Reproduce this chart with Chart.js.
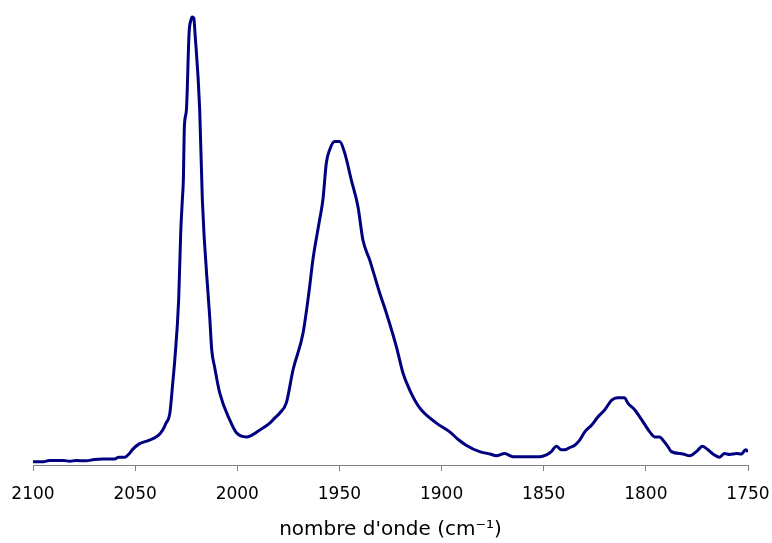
<!DOCTYPE html>
<html>
<head>
<meta charset="utf-8">
<script src="https://cdn.jsdelivr.net/npm/chart.js@4.4.0/dist/chart.umd.min.js"></script>
<style>
    html, body { margin: 0; padding: 0; background: #fff; }
    #wrap { width: 772px; height: 543px; position: relative; }
</style>
</head>
<body>
<div id="wrap"><canvas id="spectre"></canvas></div>
<script>
const wavenumbers = [
    2100, 2095, 2092, 2085, 2082, 2079, 2074, 2070, 2066, 2060, 2058, 2055, 2053, 2051, 2048,
    2043, 2038.5, 2036.5, 2035, 2033, 2031.6, 2030.6, 2028.7, 2027.7, 2026.9, 2026.4, 2025.9,
    2024.9, 2023.6, 2022.7, 2022, 2021.3, 2020.7, 2018.4, 2017.1, 2014.1, 2013.5, 2012.5,
    2011.1, 2008.6, 2003.7, 2000.4, 1995.5, 1989, 1984.1, 1981.7, 1979.2, 1976, 1972.7,
    1967.8, 1964.6, 1963, 1959.7, 1958.1, 1956.4, 1954.8, 1952.3, 1949.9, 1947.4, 1944.2,
    1940.9, 1938.5, 1935.2, 1930.3, 1927, 1922.1, 1918.9, 1915.6, 1910.7, 1902.5, 1896,
    1892, 1888, 1881.4, 1876.3, 1873.2, 1869.1, 1865.1, 1852, 1848.7, 1846.3, 1843.8,
    1841.4, 1839.7, 1837.3, 1834.8, 1832.4, 1829.9, 1826.5, 1823.6, 1820.1, 1816.7, 1813.8,
    1810.4, 1808.9, 1805.5, 1802, 1798.1, 1795.7, 1793.2, 1791.6, 1789.2, 1787.5, 1781.8,
    1778.6, 1775.3, 1772.3, 1769.6, 1767.2, 1763.9, 1761.5, 1759, 1755.7, 1753.2, 1751.2, 1750
];
// absorbance (unités arbitraires)
const absorbance = [
    0.007, 0.007, 0.010, 0.010, 0.008, 0.010, 0.009, 0.012, 0.013, 0.013, 0.017, 0.017, 0.024, 0.035, 0.046,
    0.054, 0.065, 0.076, 0.090, 0.113, 0.178, 0.228, 0.359, 0.504, 0.576, 0.620, 0.735,
    0.772, 0.939, 0.967, 0.974, 0.972, 0.939, 0.772, 0.576, 0.359, 0.322, 0.250,
    0.213, 0.157, 0.098, 0.070, 0.061, 0.076, 0.091, 0.102, 0.113, 0.135, 0.207,
    0.287, 0.387, 0.446, 0.533, 0.576, 0.657, 0.685, 0.703, 0.703, 0.678, 0.620,
    0.561, 0.489, 0.446, 0.374, 0.330, 0.257, 0.200, 0.163, 0.124, 0.091, 0.072,
    0.056, 0.043, 0.029, 0.024, 0.020, 0.025, 0.018, 0.018, 0.022, 0.029, 0.041,
    0.033, 0.033, 0.038, 0.043, 0.054, 0.072, 0.087, 0.104, 0.120, 0.141, 0.146,
    0.146, 0.135, 0.120, 0.098, 0.072, 0.061, 0.061, 0.054, 0.040, 0.029, 0.024,
    0.020, 0.029, 0.041, 0.033, 0.024, 0.017, 0.025, 0.023, 0.025, 0.024, 0.033, 0.029
];
const xTicks = [2100, 2050, 2000, 1950, 1900, 1850, 1800, 1750];
const xTitle = "nombre d'onde (cm⁻¹)";

const points = wavenumbers.map((w, i) => ({ x: w, y: absorbance[i] }));

new Chart(document.getElementById('spectre'), {
    type: 'line',
    data: {
        datasets: [{
            data: points,
            borderColor: '#000080',
            borderWidth: 3,
            pointRadius: 0,
            cubicInterpolationMode: 'monotone',
            fill: false
        }]
    },
    options: {
        responsive: true,
        maintainAspectRatio: false,
        animation: false,
        layout: { padding: { left: 33, right: 24, top: 5, bottom: 0 } },
        plugins: {
            legend: { display: false },
            tooltip: { enabled: false }
        },
        scales: {
            x: {
                type: 'linear',
                reverse: true,
                min: 1750,
                max: 2100,
                afterBuildTicks: function (scale) {
                    scale.ticks = xTicks.map(v => ({ value: v }));
                },
                afterFit: function (scale) {
                    scale.height = 78;
                    // pas de marge auto pour les étiquettes aux extrémités
                    scale.paddingLeft = 0;
                    scale.paddingRight = 0;
                },
                ticks: {
                    color: '#000',
                    maxRotation: 0,
                    autoSkip: false,
                    padding: 13,
                    callback: function (value) {
                        return String(value);
                    },
                    font: { family: 'DejaVu Sans, Verdana, sans-serif', size: 17 }
                },
                grid: {
                    drawOnChartArea: false,
                    drawTicks: true,
                    tickLength: 6,
                    color: '#808080'
                },
                border: { display: true, color: '#808080', width: 1 },
                title: {
                    display: true,
                    text: xTitle,
                    color: '#000',
                    padding: { top: 0, bottom: 1 },
                    font: { family: 'DejaVu Sans, Verdana, sans-serif', size: 20 }
                }
            },
            y: {
                display: false,
                min: 0,
                max: 1
            }
        }
    }
});
</script>
</body>
</html>
